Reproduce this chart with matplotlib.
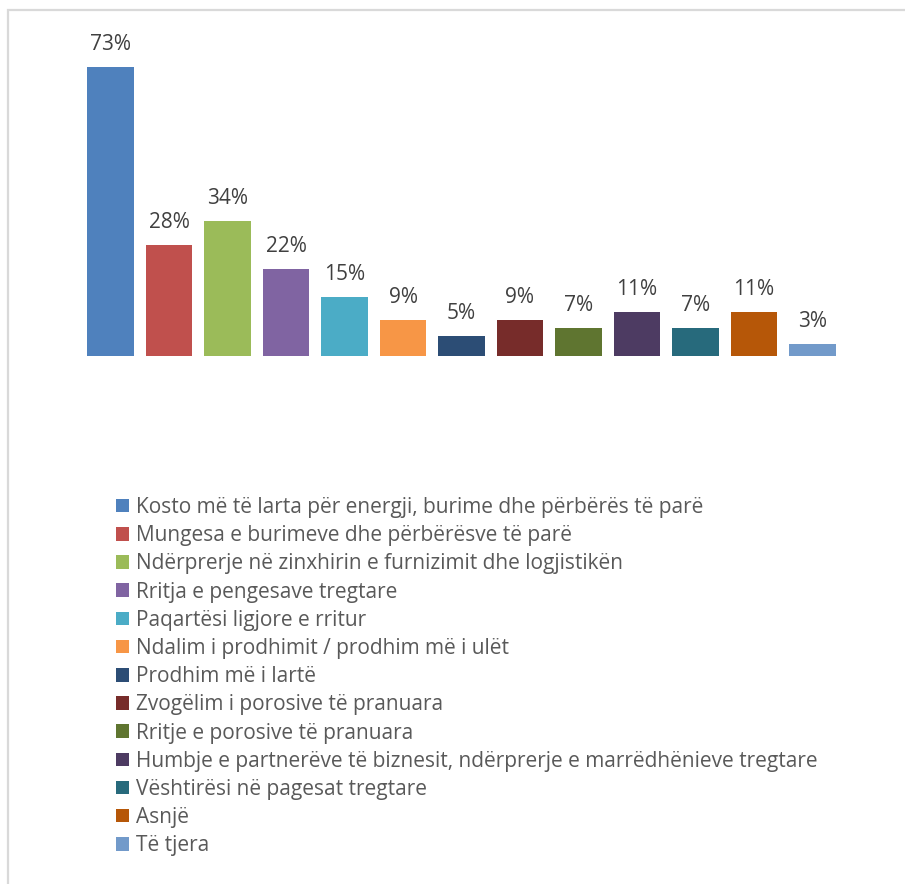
import matplotlib
matplotlib.use("Agg")
import matplotlib.pyplot as plt
from matplotlib.patches import Patch, Rectangle

categories = [
    "Kosto më të larta për energji, burime dhe përbërës të parë",
    "Mungesa e burimeve dhe përbërësve të parë",
    "Ndërprerje në zinxhirin e furnizimit dhe logjistikën",
    "Rritja e pengesave tregtare",
    "Paqartësi ligjore e rritur",
    "Ndalim i prodhimit / prodhim më i ulët",
    "Prodhim më i lartë",
    "Zvogëlim i porosive të pranuara",
    "Rritje e porosive të pranuara",
    "Humbje e partnerëve të biznesit, ndërprerje e marrëdhënieve tregtare",
    "Vështirësi në pagesat tregtare",
    "Asnjë",
    "Të tjera",
]
values = [73, 28, 34, 22, 15, 9, 5, 9, 7, 11, 7, 11, 3]
colors = ["#4F81BD", "#C0504D", "#9BBB59", "#8064A2", "#4BACC6", "#F79646",
          "#2C4D75", "#772C2A", "#5F7530", "#4D3B62", "#276A7C", "#B65708",
          "#729ACA"]

plt.rcParams['font.family'] = ['Open Sans', 'DejaVu Sans']

W, H = 905, 884
fig = plt.figure(figsize=(W / 100, H / 100), dpi=100)

ax = fig.add_axes([81.25 / W, 1 - 356 / H, 760.5 / W, 80 * 3.96 / H])
x = list(range(len(values)))
ax.bar(x, values, width=0.80, color=colors)
ax.set_xlim(-0.5, len(values) - 0.5)
ax.set_ylim(0, 80)
ax.axis("off")

for xi, v in zip(x, values):
    ax.annotate(f"{v}%", (xi, v), xytext=(0, 12.2), textcoords="offset points",
                ha="center", va="baseline", fontsize=15, color="#404040")

handles = [Patch(facecolor=c, edgecolor="none") for c in colors]
fig.legend(handles, categories, loc="upper left",
           bbox_to_anchor=(116 / W, 1 - 497 / H), frameon=False,
           fontsize=15, labelcolor="#595959", handlelength=0.62,
           handleheight=0.62, handletextpad=0.33, labelspacing=0.345,
           borderpad=0, borderaxespad=0)

rect = Rectangle((8 / W, -0.05), 1.1, 1 - 10 / H + 0.05, transform=fig.transFigure,
                 fill=False, edgecolor="#d9d9d9", linewidth=1.6)
fig.patches.append(rect)

fig.savefig("out.png", dpi=100, facecolor="white")
